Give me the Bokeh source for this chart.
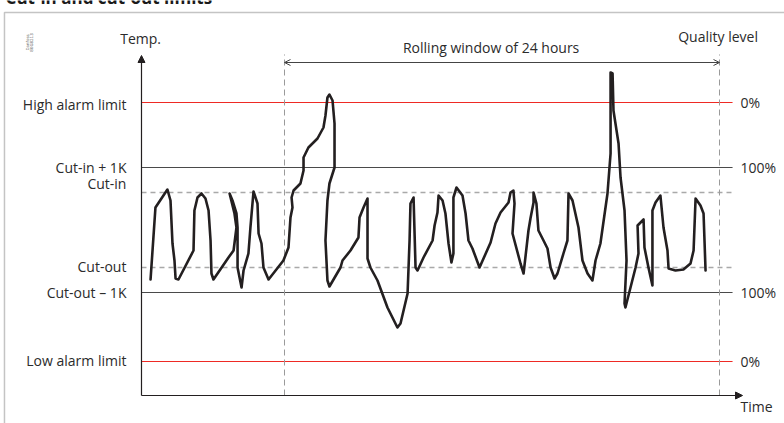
from bokeh.plotting import figure
from bokeh.models import Range1d, Arrow, NormalHead, OpenHead, BoxAnnotation
from bokeh.core.properties import value
from bokeh.embed import file_html
from bokeh.resources import INLINE

# ---------------- data ----------------
TITLE = "Cut-in and cut-out limits"
Y_TITLE = "Temp."
Y2_TITLE = "Quality level"
X_TITLE = "Time"
WINDOW_LABEL = "Rolling window of 24 hours"
CODE_LINES = ["Danfoss", "80G8213"]

level_names = ["High alarm limit", "Cut-in + 1K", "Cut-in", "Cut-out", "Cut-out \u2013 1K", "Low alarm limit"]
level_temps = [8.6, 6.0, 5.0, 2.0, 1.0, -1.76]          # K
level_kind = ["alarm", "limit", "cut", "cut", "limit", "alarm"]
quality_text = ["0%", "100%", "", "", "100%", "0%"]

window_start_h = 8.0
window_end_h = 32.0

time_h = [0.61, 0.88, 1.54, 1.71, 1.82, 1.93, 1.99, 2.15, 2.98, 3.03, 3.2, 3.42, 3.64, 3.81, 3.92, 3.97,
          4.08, 4.91, 5.19, 5.35, 5.24, 4.97, 5.13, 5.35, 5.41, 5.41, 5.63, 5.74, 6.01, 6.12, 6.29, 6.51,
          6.57, 6.73, 6.84, 7.12, 7.94, 8.22, 8.33, 8.44, 8.39, 8.5, 8.88, 9.05, 9.05, 9.32, 9.82, 10.15,
          10.26, 10.37, 10.48, 10.65, 10.76, 10.76, 10.48, 10.37, 10.26, 10.37, 10.48, 11.09, 11.2, 11.64,
          12.08, 12.14, 12.36, 12.58, 12.58, 12.74, 13.13, 13.68, 14.23, 14.4, 14.79, 14.9, 14.95, 15.12,
          15.23, 15.34, 15.67, 16.17, 16.28, 16.44, 16.5, 16.72, 16.88, 17.05, 17.21, 17.32, 17.32, 17.49,
          17.82, 17.99, 18.15, 18.37, 18.76, 19.37, 19.64, 19.92, 20.36, 20.47, 20.63, 20.69, 20.58, 21.02,
          21.19, 21.46, 21.57, 21.74, 21.74, 21.9, 22.01, 22.29, 22.51, 22.68, 22.9, 23.06, 23.39, 23.61,
          23.67, 23.89, 24.22, 24.44, 24.72, 24.99, 25.16, 25.43, 25.82, 25.99, 25.99, 26.1, 26.15, 26.43,
          26.54, 26.76, 26.87, 26.76, 26.81, 27.09, 27.37, 27.53, 27.48, 27.81, 27.86, 28.08, 28.3, 28.3,
          28.47, 28.74, 28.91, 29.13, 29.19, 29.57, 30.01, 30.4, 30.57, 30.68, 30.95, 31.12, 31.23]
temp_k = [1.52, 4.4, 5.12, 4.68, 2.96, 2.28, 1.56, 1.52, 2.68, 4.28, 4.8, 4.96, 4.76, 4.28, 3.08, 1.76,
          1.52, 2.4, 2.68, 3.6, 4.16, 4.96, 4.68, 4.16, 3.6, 2.0, 1.2, 1.88, 2.56, 3.6, 5.04, 4.56,
          3.36, 2.96, 2.0, 1.52, 2.28, 2.8, 4.0, 4.4, 4.8, 5.08, 5.36, 5.88, 6.4, 6.8, 7.16, 7.6,
          8.08, 8.8, 8.92, 8.68, 7.76, 6.0, 5.36, 4.68, 3.08, 1.48, 1.24, 2.0, 2.28, 2.68,
          3.2, 4.0, 4.4, 4.76, 2.36, 2.0, 1.48, 0.4, -0.4, -0.24, 0.96, 3.08, 4.56, 4.8,
          2.0, 1.88, 2.4, 3.08, 3.68, 4.2, 4.88, 4.68, 4.16, 2.96, 2.2, 2.56, 4.8, 5.2,
          4.88, 4.16, 3.08, 2.76, 2.0, 3.0, 3.76, 4.2, 4.6, 5.0, 5.08, 4.56, 3.36, 2.16,
          1.76, 3.48, 3.96, 4.6, 5.0, 4.56, 3.48, 3.08, 2.76, 2.0, 1.56, 1.76, 2.56, 3.08,
          4.96, 4.68, 3.6, 2.28, 1.76, 1.48, 2.28, 2.96, 4.96, 6.56, 9.8, 9.76, 8.28, 6.96,
          5.6, 4.28, 2.28, 0.56, 0.4, 1.2, 2.0, 2.56, 3.68, 3.92, 2.8, 2.0, 1.28, 4.28,
          4.6, 4.88, 3.6, 2.68, 1.96, 1.88, 1.92, 2.16, 2.68, 4.76, 4.48, 4.16, 1.88]

# ---------------- layout / style ----------------
X0, X1 = -7.669, 35.586
Y0, Y1 = -4.24, 12.68
AXIS_T = 0.11
AXIS_TEMP = -3.12
AXIS_TOP = 10.48
AXIS_RIGHT = 33.27
LINE_END = 32.72
VTOP = 10.52
ARROW_Y = 10.2
FONT = value("Open Sans")
FS = "14px"
INK = "#231f20"
TXT = "#2b2b2b"
RED = "#ee2a24"
DARK = "#4a4a4a"
GREY = "#a9a9a9"

p = figure(width=784, height=423, x_range=Range1d(X0, X1), y_range=Range1d(Y0, Y1),
           output_backend="svg", toolbar_location=None, min_border=0)
p.axis.visible = False
p.grid.visible = False
p.outline_line_color = None
p.background_fill_color = "white"
p.border_fill_color = "white"

# frame of the figure panel
p.add_layout(BoxAnnotation(left=-7.45, right=60, top=12.2, bottom=-20,
                           fill_alpha=0, line_color="#3a3a3a", line_width=1.5))

# title (cut off at the top edge, as in the reference)
p.text(x=[-7.39], y=[12.5], y_offset=[-8], text=[TITLE], text_font=value("Open Sans"), text_font_style="bold",
       text_font_size="17px", text_baseline="alphabetic", text_align="left", text_color="#1a1a1a")

# tiny code text
p.text(x=[-6.2, -5.98], y=[11.0, 11.0], text=CODE_LINES, angle=1.5708, text_font=value("DejaVu Sans"),
       text_font_size="4px", text_align="center", text_baseline="middle", text_color="#666666")

# horizontal levels
for kind, color, dash, lw in [("alarm", RED, "solid", 1.2), ("limit", DARK, "solid", 1.2), ("cut", GREY, "5 4", 1.5)]:
    ys = [t for t, k in zip(level_temps, level_kind) if k == kind]
    p.segment(x0=[AXIS_T] * len(ys), x1=[LINE_END] * len(ys), y0=ys, y1=ys,
              line_color=color, line_width=lw, line_dash=dash)

# rolling window verticals
p.segment(x0=[window_start_h, window_end_h], x1=[window_start_h, window_end_h],
          y0=[AXIS_TEMP] * 2, y1=[VTOP] * 2, line_color="#9a9a9a", line_width=1, line_dash="6 4")
p.add_layout(Arrow(x_start=window_start_h, y_start=ARROW_Y, x_end=window_end_h, y_end=ARROW_Y,
                   start=OpenHead(size=6, line_color="#444444", line_width=1),
                   end=OpenHead(size=6, line_color="#444444", line_width=1),
                   line_color="#444444", line_width=1))

# curve
p.line(time_h, temp_k, line_color=INK, line_width=2.6, line_join="round", line_cap="round")

# axes with arrows
p.add_layout(Arrow(x_start=AXIS_T, y_start=AXIS_TEMP, x_end=AXIS_T, y_end=AXIS_TOP,
                   end=NormalHead(size=7, fill_color=INK, line_color=INK), line_color=INK, line_width=1.2))
p.add_layout(Arrow(x_start=AXIS_T, y_start=AXIS_TEMP, x_end=AXIS_RIGHT, y_end=AXIS_TEMP,
                   end=NormalHead(size=7, fill_color=INK, line_color=INK), line_color=INK, line_width=1.2))

# left labels
label_shift = [-2, 0, 9, 1, 0, 1]  # px upward
p.text(x=[-0.72] * len(level_names), y=level_temps, text=level_names, y_offset=[-s for s in label_shift],
       text_align="right", text_baseline="middle", text_font=FONT, text_font_size=FS, text_color=TXT)

# right labels
qx = [33.16 for q in quality_text if q]
qy = [t for t, q in zip(level_temps, quality_text) if q]
p.text(x=qx, y=qy, text=[q for q in quality_text if q], text_align="left", text_baseline="middle",
       text_font=FONT, text_font_size=FS, text_color=TXT)

# axis / window titles
p.text(x=[0.06], y=[11.18], text=[Y_TITLE], text_align="center", text_baseline="middle",
       text_font=FONT, text_font_size=FS, text_color=TXT)
p.text(x=[31.92], y=[11.24], text=[Y2_TITLE], text_align="center", text_baseline="middle",
       text_font=FONT, text_font_size=FS, text_color=TXT)
p.text(x=[19.4], y=[10.8], text=[WINDOW_LABEL], text_align="center", text_baseline="middle",
       text_font=FONT, text_font_size=FS, text_color=TXT)
p.text(x=[33.16], y=[-3.56], text=[X_TITLE], text_align="left", text_baseline="middle",
       text_font=FONT, text_font_size=FS, text_color=TXT)

open("out.html", "w").write(file_html(p, INLINE))
